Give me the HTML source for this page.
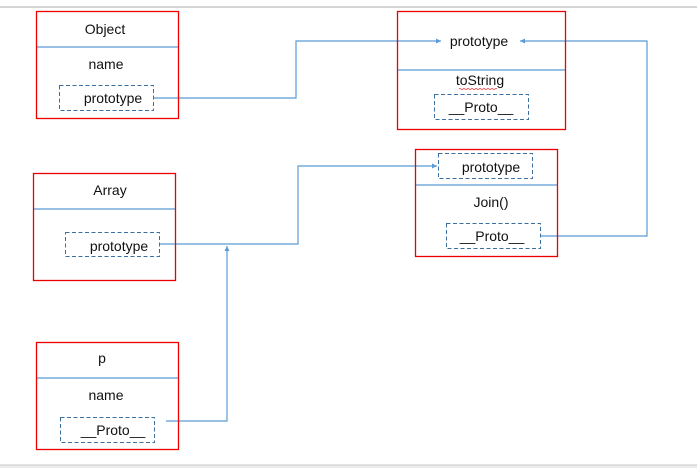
<!DOCTYPE html>
<html><head><meta charset="utf-8"><style>
html,body{margin:0;padding:0;background:#fff;width:697px;height:468px;overflow:hidden}
svg{display:block}
text{font-family:"Liberation Sans",sans-serif;font-size:14px;fill:#111;text-anchor:middle}
</style></head><body>
<svg width="697" height="468" viewBox="0 0 697 468" xmlns="http://www.w3.org/2000/svg">
<defs><marker id="a" markerWidth="6" markerHeight="6" refX="5" refY="3" orient="auto" markerUnits="userSpaceOnUse"><path d="M0,0.5 L5,3 L0,5.5z" fill="#5b9bd5"/></marker></defs>
<line x1="0" y1="7" x2="697" y2="7" stroke="#c8c8c8" stroke-width="1.5"/>
<rect x="0" y="465" width="697" height="3" fill="#ececec"/>
<line x1="0" y1="465" x2="697" y2="465" stroke="#c8c8c8"/>
<g fill="none" stroke="#5b9bd5" stroke-width="1.2">
<polyline points="153,98 296,98 296,41 441,41" marker-end="url(#a)"/>
<polyline points="540,236 647,236 647,41 520,41" marker-end="url(#a)"/>
<polyline points="159,244 298,244 298,166 437,166" marker-end="url(#a)"/>
<polyline points="166,421 227,421 227,246" marker-end="url(#a)"/>
<line x1="36" y1="47" x2="178" y2="47"/>
<line x1="397" y1="70" x2="565" y2="70"/>
<line x1="415" y1="185" x2="557" y2="185"/>
<line x1="33" y1="209" x2="175" y2="209"/>
<line x1="36" y1="378" x2="178" y2="378"/>
</g>
<g fill="none" stroke="#e00" stroke-width="1.3">
<rect x="36.5" y="11.5" width="142" height="107"/>
<rect x="397.5" y="11.5" width="168" height="118"/>
<rect x="415.5" y="149.5" width="142" height="107"/>
<rect x="33.5" y="173.5" width="142" height="107"/>
<rect x="36.5" y="342.5" width="142" height="107"/>
</g>
<g fill="none" stroke="#3a6fa0" stroke-dasharray="4,2.5">
<rect x="59.5" y="85.5" width="94" height="25"/>
<rect x="434.5" y="94.5" width="94" height="25"/>
<rect x="438.5" y="153.5" width="94" height="25"/>
<rect x="446.5" y="223.5" width="94" height="25"/>
<rect x="65.5" y="232.5" width="94" height="24"/>
<rect x="60.5" y="417.5" width="94" height="25"/>
</g>
<text x="105" y="34">Object</text>
<text x="106" y="69">name</text>
<text x="113" y="103">prototype</text>
<text x="479" y="46">prototype</text>
<text x="480" y="85">toString</text>
<path d="M459,89 q1,-1 2,0 t2,0 t2,0 t2,0 t2,0 t2,0 t2,0 t2,0 t2,0 t2,0 t2,0 t2,0 t2,0 t2,0 t2,0 t2,0 t2,0 t2,0 t2,0" fill="none" stroke="#e33" stroke-width="0.8"/>
<text x="481" y="112">__Proto__</text>
<text x="491" y="172">prototype</text>
<text x="491" y="207">Join()</text>
<text x="492" y="241">__Proto__</text>
<text x="110" y="195">Array</text>
<text x="119" y="251">prototype</text>
<text x="102" y="363">p</text>
<text x="106" y="400">name</text>
<text x="113" y="435">__Proto__</text>
</svg>
</body></html>
